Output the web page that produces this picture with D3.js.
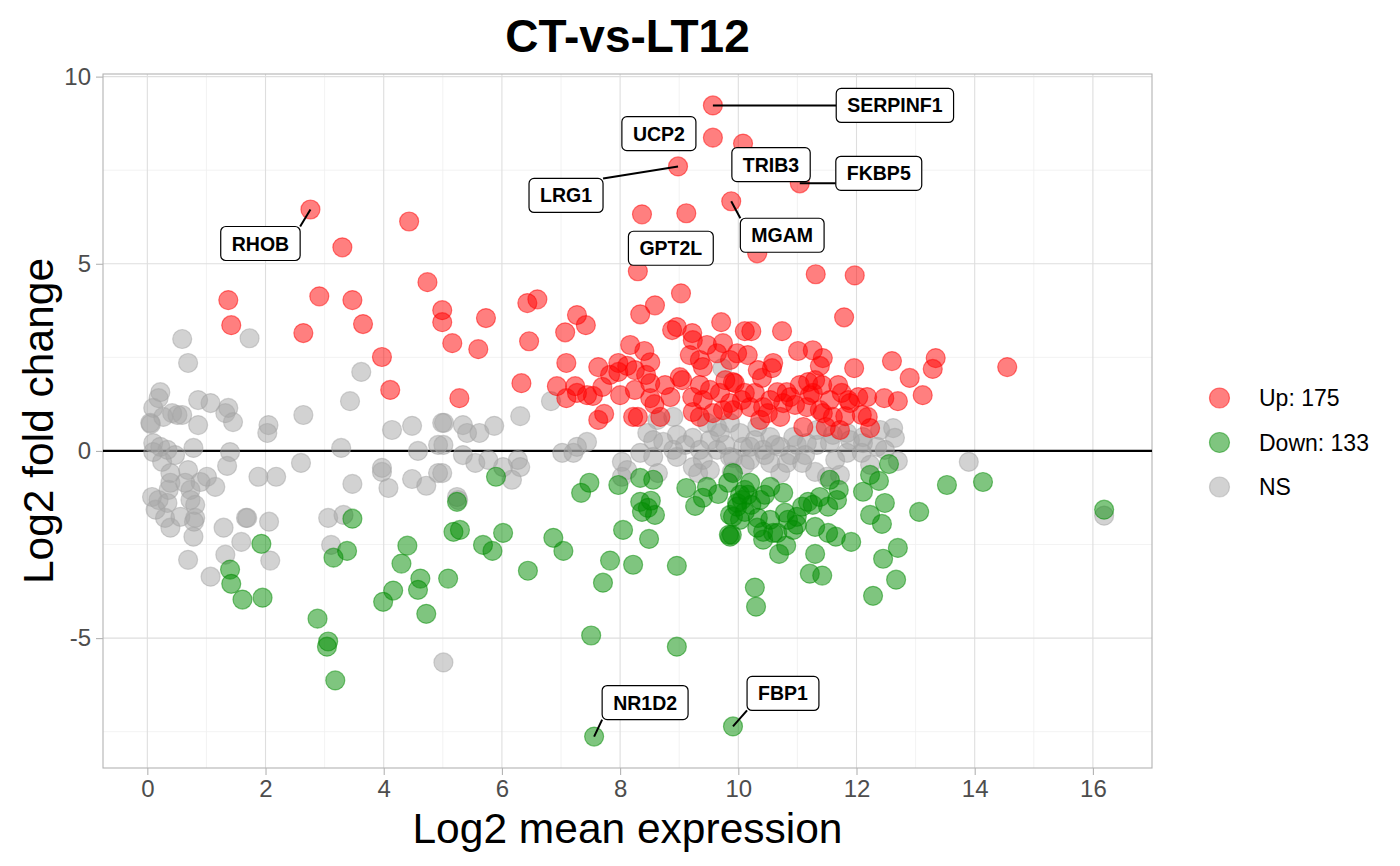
<!DOCTYPE html>
<html>
<head>
<meta charset="utf-8">
<script src="https://cdn.jsdelivr.net/npm/d3@7"></script>
<style>
  body { margin: 0; background: #fff; }
  svg text { font-family: "Liberation Sans", Arial, sans-serif; }
</style>
</head>
<body>
<div id="chart"></div>
<script>
/********************* Data *********************/
const chartTitle = "CT-vs-LT12";
const xTicks = [0, 2, 4, 6, 8, 10, 12, 14, 16];
const yTicks = [-5, 0, 5, 10];
const legendLabels = ["Up: 175", "Down: 133", "NS"];

// [log2 mean expression, log2 fold change]
const upPoints = [
  [9.57, 9.23], [9.57, 8.37], [10.08, 8.21], [11.04, 7.15], [9.88, 6.67], [8.98, 7.6],
  [8.30, 4.8], [2.76, 6.45], [8.37, 6.32], [9.12, 6.35], [10.32, 5.28], [11.31, 4.72],
  [11.97, 4.69], [4.43, 6.13], [3.30, 5.44], [1.37, 4.03], [1.42, 3.36], [2.91, 4.13],
  [2.64, 3.15], [3.47, 4.03], [3.65, 3.39], [3.97, 2.51], [4.11, 1.63], [4.74, 4.51],
  [4.99, 3.76], [4.99, 3.44], [5.16, 2.88], [5.60, 2.72], [5.73, 3.55], [5.28, 1.41],
  [6.43, 3.95], [6.60, 4.05], [6.46, 2.93], [6.33, 1.81], [7.07, 3.17], [7.27, 3.63],
  [7.42, 3.36], [7.09, 2.35], [6.93, 1.73], [7.09, 1.41], [7.24, 1.73], [7.27, 1.55],
  [7.44, 1.49], [7.54, 1.47], [7.70, 1.71], [7.63, 2.24], [7.73, 0.99], [7.63, 0.83],
  [7.97, 2.35], [7.97, 2.11], [8.12, 2.27], [8.17, 2.83], [8.34, 3.65], [8.59, 3.89],
  [9.03, 4.21], [8.88, 3.23], [8.96, 3.31], [9.22, 3.15], [9.23, 2.96], [8.41, 2.67],
  [8.51, 2.37], [8.25, 2.16], [8.44, 2.03], [8.51, 1.81], [8.25, 1.63], [8.51, 1.41],
  [8.58, 1.25], [8.22, 0.91], [8.30, 0.91], [8.68, 0.91], [8.85, 1.44], [9.01, 1.97],
  [9.05, 1.89], [9.22, 1.44], [9.35, 2.43], [9.40, 2.24], [9.64, 2.61], [9.74, 2.88],
  [9.71, 3.44], [9.86, 2.43], [9.91, 1.84], [9.69, 1.55], [9.40, 1.36], [9.35, 0.91],
  [9.57, 1.01], [9.74, 1.09], [9.86, 1.28], [9.23, 1.04], [11.79, 3.57], [10.74, 3.20],
  [10.11, 3.20], [10.22, 3.20], [11.01, 2.67], [11.26, 2.69], [11.43, 2.48], [11.38, 2.27],
  [11.96, 2.21], [12.60, 2.40], [12.90, 1.95], [13.34, 2.48], [13.29, 2.19], [13.12, 1.49],
  [14.55, 2.24], [12.47, 1.41], [12.70, 1.33], [12.18, 1.44], [12.03, 1.44], [11.86, 1.36],
  [11.75, 1.55], [10.59, 2.35], [10.57, 2.21], [10.33, 2.16], [10.40, 1.95], [9.98, 2.61],
  [10.16, 2.56], [9.94, 1.81], [10.06, 1.36], [10.66, 1.57], [10.82, 1.57], [10.88, 1.44],
  [10.76, 1.28], [11.18, 1.84], [11.30, 1.89], [11.42, 1.76], [11.26, 1.55], [11.16, 1.17],
  [11.38, 1.09], [11.43, 1.01], [11.60, 0.91], [11.81, 0.93], [12.09, 0.96], [12.19, 0.91],
  [12.23, 0.61], [11.10, 0.64], [10.42, 1.17], [10.50, 1.01], [10.20, 1.17], [9.91, 1.09],
  [10.71, 0.91], [10.11, 1.55], [10.96, 1.23], [11.04, 1.76], [11.21, 1.49], [10.28, 1.55],
  [10.54, 1.36], [9.35, 1.76], [9.52, 1.63], [9.78, 1.89], [10.37, 0.83], [11.55, 1.36],
  [11.69, 1.76], [11.89, 1.28], [9.18, 2.56], [9.47, 2.83], [8.76, 1.76], [8.00, 1.49],
  [7.83, 2.03], [11.72, 0.56], [11.48, 0.64]
];

const downPoints = [
  [1.93, -2.48], [1.40, -3.17], [1.42, -3.55], [1.61, -3.97], [1.95, -3.92], [2.88, -4.48],
  [3.06, -5.09], [3.04, -5.23], [3.18, -6.13], [3.47, -1.81], [3.38, -2.67], [3.15, -2.85],
  [4.40, -2.53], [4.30, -3.01], [4.16, -3.73], [3.99, -4.03], [4.62, -3.41], [4.58, -3.71],
  [4.72, -4.35], [5.09, -3.41], [5.24, -1.36], [5.18, -2.16], [5.29, -2.11], [5.90, -0.69],
  [5.68, -2.51], [5.84, -2.67], [6.02, -2.19], [6.44, -3.20], [6.87, -2.32], [7.04, -2.67],
  [7.34, -1.12], [7.48, -0.85], [7.97, -0.91], [8.05, -2.11], [7.83, -2.93], [8.22, -3.04],
  [7.71, -3.52], [7.51, -4.93], [8.96, -3.07], [8.96, -5.23], [8.34, -0.72], [8.56, -0.77],
  [8.34, -1.36], [8.37, -1.63], [8.52, -1.33], [8.47, -1.52], [8.59, -1.71], [8.49, -2.35],
  [9.12, -0.99], [9.27, -1.47], [9.47, -0.96], [9.40, -1.25], [9.66, -1.15], [9.83, -0.85],
  [9.91, -0.59], [9.86, -1.71], [9.84, -2.24], [9.86, -2.29], [9.98, -1.39], [12.55, -0.35],
  [12.23, -0.64], [12.38, -0.80], [12.11, -1.09], [12.48, -1.39], [12.23, -1.71], [12.43, -1.95],
  [13.06, -1.63], [13.53, -0.91], [14.14, -0.83], [12.70, -2.59], [12.45, -2.88], [12.67, -3.44],
  [12.28, -3.87], [11.91, -2.43], [11.65, -2.29], [11.52, -2.19], [11.30, -2.03], [11.30, -2.75],
  [11.21, -3.28], [11.42, -3.33], [10.81, -2.53], [10.69, -2.75], [10.42, -2.37], [10.28, -3.65],
  [10.30, -4.16], [11.67, -1.31], [11.70, -1.04], [11.55, -0.77], [11.38, -1.23], [11.52, -1.49],
  [11.18, -1.36], [11.08, -1.49], [10.99, -1.97], [10.99, -1.76], [10.79, -1.65], [10.76, -1.12],
  [10.54, -0.96], [10.54, -1.84], [10.42, -2.16], [10.33, -1.79], [10.32, -2.05], [10.11, -1.04],
  [10.06, -1.31], [9.98, -1.49], [9.89, -2.24], [9.91, -1.76], [10.59, -2.19], [10.66, -2.19],
  [10.20, -0.85], [10.84, -1.84], [10.93, -2.11], [11.26, -1.44], [16.19, -1.57], [7.56, -7.63],
  [9.91, -7.36], [10.16, -1.17], [10.37, -1.31], [10.11, -1.63], [10.22, -1.44], [10.03, -1.17],
  [10.45, -1.17], [10.03, -1.84]
];

const nsPoints = [
  [0.59, 2.99], [0.69, 2.35], [1.73, 3.01], [3.62, 2.11], [3.43, 1.33], [0.22, 1.57],
  [0.19, 1.41], [0.10, 1.15], [0.42, 1.01], [0.51, 0.96], [0.59, 0.96], [0.05, 0.75],
  [0.06, 0.72], [0.27, 0.91], [0.86, 1.36], [1.07, 1.28], [1.37, 1.15], [1.32, 1.01],
  [1.45, 0.77], [0.86, 0.69], [2.05, 0.69], [2.03, 0.48], [2.64, 0.96], [4.14, 0.56],
  [4.48, 0.67], [5.02, 0.75], [4.92, 0.16], [5.01, 0.16], [4.58, 0.0], [3.28, 0.08],
  [0.78, 0.08], [1.40, -0.03], [1.35, -0.40], [0.10, 0.21], [0.10, -0.03], [0.22, 0.11],
  [0.34, 0.03], [0.47, -0.11], [0.25, -0.29], [0.39, -0.59], [0.69, -0.51], [1.01, -0.69],
  [1.15, -0.96], [0.90, -0.83], [0.64, -0.85], [0.73, -1.04], [0.39, -0.85], [0.36, -1.04],
  [0.08, -1.23], [0.19, -1.31], [0.34, -1.39], [0.14, -1.57], [0.81, -1.44], [0.73, -1.31],
  [0.30, -1.79], [0.39, -2.05], [0.56, -1.76], [0.81, -1.79], [0.79, -1.89], [0.78, -2.29],
  [0.69, -2.91], [1.07, -3.36], [1.32, -2.77], [1.59, -2.43], [1.29, -2.05], [1.67, -1.79],
  [1.69, -1.79], [2.06, -1.89], [2.08, -2.93], [1.88, -0.69], [2.18, -0.69], [2.60, -0.32],
  [3.47, -0.88], [3.06, -1.79], [3.32, -1.71], [3.11, -2.51], [3.97, -0.45], [3.97, -0.56],
  [4.08, -0.99], [4.48, -0.75], [4.72, -0.93], [4.92, -0.59], [5.26, -1.31], [5.01, -5.65],
  [4.99, 0.75], [5.34, 0.69], [5.41, 0.48], [5.62, 0.48], [5.87, 0.67], [6.31, 0.93],
  [6.83, 1.33], [7.02, -0.05], [7.27, 0.11], [7.44, 0.24], [8.34, -0.05], [8.63, 0.83],
  [8.90, 0.91], [8.96, 0.43], [9.23, 0.35], [8.46, 0.48], [8.56, 0.29], [8.73, 0.24],
  [9.47, 0.75], [9.64, 0.64], [9.69, 0.48], [9.86, 0.75], [9.73, 2.21], [5.34, -0.11],
  [5.55, -0.32], [5.77, -0.24], [6.02, -0.43], [6.27, -0.24], [6.31, -0.43], [6.17, -0.77],
  [4.99, -0.59], [5.24, -1.23], [7.21, -0.05], [8.03, -0.29], [8.12, -0.51], [8.56, -0.16],
  [8.64, -0.59], [8.03, -0.69], [8.90, 0.03], [8.96, -0.16], [9.23, -0.43], [9.32, -0.59],
  [9.40, -0.24], [9.64, 0.03], [9.86, -0.16], [9.89, -0.56], [12.62, 0.61], [12.65, 0.35],
  [13.90, -0.29], [16.19, -1.73], [10.08, 0.11], [10.42, 0.03], [10.71, 0.11], [10.99, 0.16],
  [11.33, 0.16], [11.55, 0.21], [11.84, -0.05], [12.09, -0.05], [12.11, 0.21], [12.70, -0.27],
  [12.23, -0.37], [11.30, -0.56], [11.08, -0.32], [10.82, -0.32], [10.54, -0.32], [10.20, -0.24],
  [9.91, -0.19], [11.72, -0.64], [11.50, -0.69], [10.71, -0.59], [10.03, 0.48], [10.32, 0.64],
  [10.54, 0.37], [10.93, 0.37], [11.33, 0.56], [11.60, 0.43], [11.84, 0.48], [12.11, 0.37],
  [12.35, 0.11], [11.16, 0.21], [10.20, 0.11], [9.52, 0.29], [9.78, 0.16], [10.28, 0.29],
  [10.45, -0.11], [10.11, -0.37], [9.35, 0.03], [9.10, 0.16], [9.52, -0.51], [10.88, -0.11],
  [10.62, 0.16], [11.13, -0.11], [11.64, -0.24], [11.89, 0.29], [12.48, 0.03], [12.40, 0.56]
];

// labelled genes: name, point, label offset in px (box centre), draw connector
const labelGenes = ["SERPINF1", "UCP2", "TRIB3", "FKBP5", "MGAM", "LRG1", "GPT2L", "RHOB", "NR1D2", "FBP1"];
const labelMean = [9.57, 9.57, 10.08, 11.04, 9.88, 8.98, 8.30, 2.76, 7.56, 9.91];
const labelLfc = [9.23, 8.37, 8.21, 7.15, 6.67, 7.6, 4.8, 6.45, -7.63, -7.36];
const labelNudge = [[182, 0], [-54, -4], [28, 21], [79, -10], [51, 34], [-112, 29], [33, -23], [-50, 34], [51, -34], [50, -33]];
const labelLine = [true, false, false, true, true, true, false, true, true, true];

/********************* Chart *********************/
(() => {
  const width = 1400,
    height = 866;
  const margin = { top: 74, right: 248, bottom: 98, left: 103 };
  const innerW = width - margin.left - margin.right,
    innerH = height - margin.top - margin.bottom;

  const svg = d3
    .select("#chart")
    .append("svg")
    .attr("width", width)
    .attr("height", height);

  const x = d3.scaleLinear().domain([-0.75, 17.0]).range([0, innerW]);
  const y = d3.scaleLinear().domain([-8.47, 10.07]).range([innerH, 0]);

  const g = svg
    .append("g")
    .attr("transform", "translate(" + margin.left + "," + margin.top + ")");

  // minor grid
  const xMinor = d3.range(-1, 18, 2).filter((v) => v > -0.75 && v < 17);
  const yMinor = [-7.5, -2.5, 2.5, 7.5];
  g.selectAll(".xminor")
    .data(xMinor)
    .enter()
    .append("line")
    .attr("x1", (d) => x(d))
    .attr("x2", (d) => x(d))
    .attr("y1", 0)
    .attr("y2", innerH)
    .attr("stroke", "#efefef")
    .attr("stroke-width", 0.8);
  g.selectAll(".yminor")
    .data(yMinor)
    .enter()
    .append("line")
    .attr("x1", 0)
    .attr("x2", innerW)
    .attr("y1", (d) => y(d))
    .attr("y2", (d) => y(d))
    .attr("stroke", "#efefef")
    .attr("stroke-width", 0.8);

  // major grid
  g.selectAll(".xmajor")
    .data(xTicks)
    .enter()
    .append("line")
    .attr("x1", (d) => x(d))
    .attr("x2", (d) => x(d))
    .attr("y1", 0)
    .attr("y2", innerH)
    .attr("stroke", "#dedede")
    .attr("stroke-width", 1.1);
  g.selectAll(".ymajor")
    .data(yTicks)
    .enter()
    .append("line")
    .attr("x1", 0)
    .attr("x2", innerW)
    .attr("y1", (d) => y(d))
    .attr("y2", (d) => y(d))
    .attr("stroke", "#dedede")
    .attr("stroke-width", 1.1);

  // axes
  const xAxis = g
    .append("g")
    .attr("transform", "translate(0," + innerH + ")")
    .call(d3.axisBottom(x).tickValues(xTicks).tickSize(7).tickPadding(5));
  const yAxis = g
    .append("g")
    .call(d3.axisLeft(y).tickValues(yTicks).tickSize(7).tickPadding(5).tickFormat(d3.format("d")));
  [xAxis, yAxis].forEach((a) => {
    a.select(".domain").remove();
    a.selectAll(".tick line").attr("stroke", "#b3b3b3").attr("stroke-width", 1.1);
    a.selectAll(".tick text")
      .attr("fill", "#4d4d4d")
      .style("font-size", "24px")
      .style("font-family", "'Liberation Sans', Arial, sans-serif");
  });
  yAxis.selectAll(".tick text").text((d) => (d < 0 ? "-" + Math.abs(d) : d));

  // panel border
  g.append("rect")
    .attr("width", innerW)
    .attr("height", innerH)
    .attr("fill", "none")
    .attr("stroke", "#b3b3b3")
    .attr("stroke-width", 1.1);

  // zero line
  g.append("line")
    .attr("x1", 0)
    .attr("x2", innerW)
    .attr("y1", y(0))
    .attr("y2", y(0))
    .attr("stroke", "#000")
    .attr("stroke-width", 2.2);

  const lab = labelGenes.map((name, i) => {
    const px = x(labelMean[i]),
      py = y(labelLfc[i]);
    return { name, px, py, cx: px + labelNudge[i][0], cy: py + labelNudge[i][1], line: labelLine[i] };
  });

  const groups = [
    { data: nsPoints, col: "166,166,166" },
    { data: downPoints, col: "0,139,0" },
    { data: upPoints, col: "255,0,0" },
  ];
  groups.forEach((grp) => {
    g.append("g")
      .selectAll("circle")
      .data(grp.data)
      .enter()
      .append("circle")
      .attr("cx", (d) => x(d[0]))
      .attr("cy", (d) => y(d[1]))
      .attr("r", 9.5)
      .attr("fill", "rgba(" + grp.col + ",0.5)")
      .attr("stroke", "rgba(" + grp.col + ",0.5)")
      .attr("stroke-width", 1.2);
  });

  // labels (boxes + connectors)
  const lg = g.append("g");
  lab.forEach((d) => {
    const t = lg
      .append("text")
      .attr("x", d.cx)
      .attr("y", d.cy)
      .attr("text-anchor", "middle")
      .attr("dominant-baseline", "central")
      .style("font-size", "19.5px")
      .style("font-weight", "bold")
      .attr("fill", "#000")
      .text(d.name);
    const w = t.node().getComputedTextLength() + 22,
      h = 34;
    const bx = d.cx - w / 2,
      by = d.cy - h / 2;
    if (d.line) {
      const nx = Math.max(bx, Math.min(d.px, bx + w)),
        ny = Math.max(by, Math.min(d.py, by + h));
      lg.insert("line", "text")
        .attr("x1", d.px)
        .attr("y1", d.py)
        .attr("x2", nx)
        .attr("y2", ny)
        .attr("stroke", "#000")
        .attr("stroke-width", 2);
    }
    lg.insert("rect", "text")
      .attr("x", bx)
      .attr("y", by)
      .attr("width", w)
      .attr("height", h)
      .attr("rx", 5)
      .attr("fill", "#fff")
      .attr("stroke", "#000")
      .attr("stroke-width", 1.2);
  });
  lg.selectAll("text").raise();

  // title
  svg.append("text")
    .attr("x", margin.left + innerW / 2)
    .attr("y", 52)
    .attr("text-anchor", "middle")
    .style("font-size", "46px")
    .style("font-weight", "bold")
    .text(chartTitle);

  // axis titles
  svg.append("text")
    .attr("x", margin.left + innerW / 2)
    .attr("y", 843)
    .attr("text-anchor", "middle")
    .style("font-size", "42.5px")
    .text("Log2 mean expression");
  svg.append("text")
    .attr("transform", "translate(53," + (margin.top + innerH / 2) + ") rotate(-90)")
    .attr("text-anchor", "middle")
    .style("font-size", "42.5px")
    .text("Log2 fold change");

  // legend
  const legendCols = ["255,0,0", "0,139,0", "166,166,166"];
  const leg = svg.append("g").attr("transform", "translate(1219.5,398)");
  leg.selectAll("circle")
    .data(legendLabels)
    .enter()
    .append("circle")
    .attr("cx", 0)
    .attr("cy", (d, i) => i * 44.5)
    .attr("r", 10)
    .attr("fill", (d, i) => "rgba(" + legendCols[i] + ",0.5)")
    .attr("stroke", (d, i) => "rgba(" + legendCols[i] + ",0.5)")
    .attr("stroke-width", 1.2);
  leg.selectAll("text")
    .data(legendLabels)
    .enter()
    .append("text")
    .attr("x", 39.5)
    .attr("y", (d, i) => i * 44.5)
    .attr("dominant-baseline", "central")
    .style("font-size", "23px")
    .attr("fill", "#000")
    .text((d) => d);
})();
</script>
</body>
</html>
